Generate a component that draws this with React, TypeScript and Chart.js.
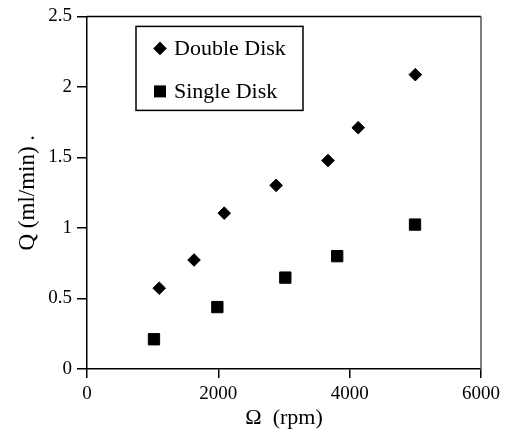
import React, { useEffect, useRef } from "react";
import { Chart, registerables } from "chart.js";

Chart.register(...registerables);

const doubleDiskRpm = [1100, 1630, 2090, 2880, 3670, 4130, 5000];
const doubleDiskQ = [0.573, 0.773, 1.105, 1.302, 1.478, 1.711, 2.087];
const singleDiskRpm = [1020, 1985, 3020, 3810, 4995];
const singleDiskQ = [0.211, 0.439, 0.648, 0.8, 1.024];
const xTicks = [0, 2000, 4000, 6000];
const xTickLabels = ["0", "2000", "4000", "6000"];
const yTicks = [0, 0.5, 1, 1.5, 2, 2.5];
const yTickLabels = ["0", "0.5", "1", "1.5", "2", "2.5"];
const seriesLabels = ["Double Disk", "Single Disk"];
const xTitle = "Ω  (rpm)";
const yTitle = "Q (ml/min) .";

const FONT = "'Liberation Serif', 'Times New Roman', serif";

const framePlugin = {
  id: "frameAndLegend",
  afterDraw(chart: any) {
    const { ctx, chartArea } = chart;
    const { left, right, top, bottom } = chartArea;
    ctx.save();
    ctx.strokeStyle = "#000";
    ctx.lineWidth = 1.5;
    ctx.beginPath();
    ctx.moveTo(left, top);
    ctx.lineTo(right, top);
    ctx.stroke();
    ctx.strokeStyle = "#555";
    ctx.beginPath();
    ctx.moveTo(right, top);
    ctx.lineTo(right, bottom);
    ctx.stroke();

    const bx = left + 49;
    const by = top + 10;
    const bw = 167;
    const bh = 84;
    ctx.strokeStyle = "#000";
    ctx.lineWidth = 1.5;
    ctx.strokeRect(bx, by, bw, bh);
    ctx.fillStyle = "#000";
    ctx.font = `22px ${FONT}`;
    ctx.textBaseline = "middle";
    ctx.textAlign = "left";
    const rows = [by + 22, by + 65];
    chart.data.datasets.forEach((ds: any, i: number) => {
      const cx = bx + 24;
      const cy = rows[i];
      ctx.beginPath();
      if (ds.pointStyle === "rectRot") {
        const r = 6.8;
        ctx.moveTo(cx - r, cy);
        ctx.lineTo(cx, cy - r);
        ctx.lineTo(cx + r, cy);
        ctx.lineTo(cx, cy + r);
        ctx.closePath();
      } else {
        const s = 6;
        ctx.rect(cx - s, cy - s, 2 * s, 2 * s);
      }
      ctx.fill();
      ctx.fillText(ds.label, bx + 38, cy + 1);
    });
    ctx.restore();
  },
};

export default function App() {
  const ref = useRef<HTMLCanvasElement | null>(null);
  useEffect(() => {
    document.body.style.margin = "0";
    const canvas = ref.current;
    if (!canvas) return;
    const chart = new Chart(canvas, {
      type: "scatter",
      data: {
        datasets: [
          {
            label: seriesLabels[0],
            data: doubleDiskRpm.map((x, i) => ({ x, y: doubleDiskQ[i] })),
            pointStyle: "rectRot",
            pointRadius: 6.3,
            backgroundColor: "#000",
            borderColor: "#000",
            borderWidth: 1,
          },
          {
            label: seriesLabels[1],
            data: singleDiskRpm.map((x, i) => ({ x, y: singleDiskQ[i] })),
            pointStyle: "rect",
            pointRadius: 8,
            backgroundColor: "#000",
            borderColor: "#000",
            borderWidth: 1,
          },
        ],
      },
      options: {
        animation: false,
        responsive: false,
        maintainAspectRatio: false,
        layout: { padding: { left: 0, right: 26, top: 10, bottom: 0 } },
        plugins: {
          legend: { display: false },
          tooltip: { enabled: false },
        },
        scales: {
          x: {
            type: "linear",
            min: 0,
            max: 6000,
            afterFit: (s: any) => {
              s.height = 71;
            },
            afterBuildTicks: (s: any) => {
              s.ticks = xTicks.map((v) => ({ value: v }));
            },
            ticks: {
              color: "#000",
              font: { family: FONT, size: 19 },
              padding: 5,
              maxRotation: 0,
              callback: (v: any) => {
                const i = xTicks.indexOf(Number(v));
                return i >= 0 ? xTickLabels[i] : "";
              },
            },
            grid: {
              display: true,
              drawOnChartArea: false,
              drawTicks: true,
              tickLength: 9,
              color: "#000",
              lineWidth: 1.5,
            },
            border: { display: true, color: "#000", width: 1.5 },
            title: {
              display: true,
              text: xTitle,
              color: "#000",
              font: { family: FONT, size: 22 },
              padding: { top: 0, bottom: 9 },
            },
          },
          y: {
            type: "linear",
            min: 0,
            max: 2.5,
            afterFit: (s: any) => {
              s.width = 87;
            },
            afterBuildTicks: (s: any) => {
              s.ticks = yTicks.map((v) => ({ value: v }));
            },
            ticks: {
              color: "#000",
              font: { family: FONT, size: 19 },
              padding: 5,
              callback: (v: any) => {
                const i = yTicks.indexOf(Number(v));
                return i >= 0 ? yTickLabels[i] : "";
              },
            },
            grid: {
              display: true,
              drawOnChartArea: false,
              drawTicks: true,
              tickLength: 10,
              color: "#000",
              lineWidth: 1.5,
            },
            border: { display: true, color: "#000", width: 1.5 },
            title: {
              display: true,
              text: yTitle,
              color: "#000",
              font: { family: FONT, size: 23 },
              padding: { top: 14, bottom: 0 },
            },
          },
        },
      },
      plugins: [framePlugin],
    });
    return () => chart.destroy();
  }, []);
  return (
    <div style={{ width: 507, height: 440, background: "#fff" }}>
      <canvas ref={ref} width={507} height={440} style={{ display: "block" }} />
    </div>
  );
}
